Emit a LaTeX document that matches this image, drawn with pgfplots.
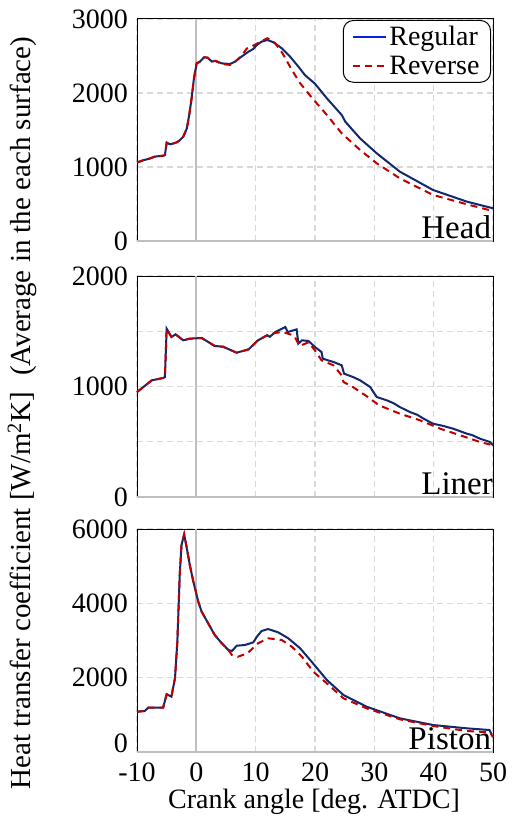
\documentclass[border=0pt]{standalone}
\usepackage{fontspec}
\setmainfont{Liberation Serif}
\usepackage{pgfplots}
\pgfplotsset{compat=1.18}
\definecolor{regblue}{RGB}{15,40,110}
\definecolor{legblue}{RGB}{10,30,235}
\definecolor{revred}{RGB}{192,0,0}
\newcommand{\tfont}{\fontsize{28bp}{30bp}\selectfont}
\pgfplotsset{
  panel/.style={
    scale only axis, width=356bp,
    xmin=-10, xmax=50,
    xtick={-10,10,20,30,40,50},
    extra x ticks={0},
    extra x tick style={grid=major, major grid style={solid, gray!50, line width=2bp}},
    grid=major,
    major grid style={gray!30, line width=1.3bp, dash pattern=on 6bp off 4bp},
    tick style={draw=none},
    axis line style={black, line width=1bp},
    ticklabel style={font=\tfont},
    /pgf/number format/assume math mode=true,
    /pgf/number format/1000 sep={},
    yticklabel style={inner sep=0pt, xshift=-9bp},
    xticklabel style={inner sep=0pt, yshift=-11bp},
    clip=false,
  },
  reg/.style={color=regblue, line width=2bp, forget plot},
  rev/.style={color=revred, line width=2bp, dash pattern=on 7bp off 5bp, forget plot},
}
\begin{document}
\begin{tikzpicture}[x=1bp,y=1bp]
\path[use as bounding box] (0,0) rectangle (512,-821);
% ---------------- Head
\begin{axis}[panel, name=head, at={(137bp,-19bp)}, anchor=north west, height=222bp,
  ymin=0, ymax=3000, ytick={0,1000,2000,3000},
  xticklabels={}, extra x tick labels={},
  legend style={at={(rel axis cs:1,1)}, anchor=north east, xshift=-2bp, yshift=-1bp,
    draw=black, line width=1bp, rounded corners=10bp, font=\tfont,
    inner xsep=9bp, inner ysep=5bp, row sep=7bp,
    nodes={inner ysep=1bp}},
  legend cell align=left,
  legend image code/.code={\draw[#1] (0bp,0bp) -- (33bp,0bp);}]
\addplot[reg] coordinates {(-10,1060)(-9,1090)(-8.1,1108)(-7,1140)(-5.6,1153)(-5.3,1160)(-5.0,1329)(-4.4,1306)(-3.3,1333)(-2.8,1360)(-2.2,1410)(-1.6,1522)(-1.2,1703)(-0.8,1928)(-0.4,2198)(0.05,2400)(0.6,2423)(1.3,2482)(1.9,2478)(2.6,2425)(3.2,2435)(4.3,2400)(5.7,2392)(6.5,2423)(7.6,2491)(8.8,2559)(9.6,2595)(10.2,2649)(11.0,2694)(12.0,2716)(13.0,2685)(14.4,2604)(15.8,2491)(17.2,2356)(18.3,2243)(20,2125)(22.0,1928)(24.5,1703)(25.1,1613)(27.6,1387)(30.4,1185)(34.3,937)(39.9,689)(45.6,532)(50,442)};
\addplot[rev] coordinates {(-10,1060)(-9,1090)(-8.1,1108)(-7,1140)(-5.6,1153)(-5.3,1160)(-5.0,1329)(-4.4,1306)(-3.3,1333)(-2.8,1360)(-2.2,1410)(-1.6,1522)(-1.2,1703)(-0.8,1928)(-0.4,2198)(0.05,2400)(0.6,2423)(1.3,2482)(1.9,2478)(2.6,2425)(3.2,2435)(4.3,2390)(5.7,2380)(6.5,2420)(7.6,2500)(8.5,2600)(9.6,2640)(10.5,2680)(11.2,2710)(12.0,2740)(13.3,2671)(14.5,2540)(16.1,2311)(17.5,2131)(19.7,1915)(22.0,1703)(24.5,1455)(27.6,1230)(30.4,1050)(34.3,847)(39.9,622)(45.6,496)(50,405)};
\addlegendimage{legblue, line width=2bp}
\addlegendentry{Regular}
\addlegendimage{revred, line width=2bp, dash pattern=on 7bp off 5bp}
\addlegendentry{Reverse}
\node[anchor=base east, inner sep=0pt, font=\fontsize{33bp}{35bp}\selectfont] at (rel axis cs:0.995,0.01) {Head};
\end{axis}
% ---------------- Liner
\begin{axis}[panel, name=liner, at={(137bp,-276bp)}, anchor=north west, height=221bp,
  ymin=0, ymax=2000, ytick={0,500,...,2000}, yticklabels={0,,1000,,2000},
  xticklabels={}, extra x tick labels={}]
\addplot[reg] coordinates {(-10,950)(-7.5,1056)(-5.6,1077)(-5.3,1085)(-5.0,1523)(-4.2,1448)(-3.5,1472)(-2.2,1418)(-1.1,1433)(0.9,1439)(3.1,1367)(4.5,1360)(6.8,1306)(8.8,1336)(10.4,1418)(11.9,1463)(12.4,1450)(13.3,1493)(15.0,1538)(15.4,1493)(16.9,1517)(17.2,1388)(17.8,1418)(18.9,1412)(20,1357)(21.1,1312)(21.3,1252)(23.1,1222)(24.5,1192)(24.9,1116)(26.4,1086)(27.6,1056)(29.3,995)(30.4,905)(32.1,875)(33.2,850)(34.3,814)(36.0,769)(37.2,745)(38.3,709)(39.9,663)(41.5,645)(43.3,618)(45.6,573)(46.5,560)(47.8,528)(49.5,498)(50,468)};
\addplot[rev] coordinates {(-10,950)(-7.5,1056)(-5.6,1077)(-5.3,1085)(-5.0,1523)(-4.2,1448)(-3.5,1472)(-2.2,1418)(-1.1,1433)(0.9,1439)(3.1,1367)(4.5,1360)(6.8,1306)(8.8,1336)(10.4,1418)(11.9,1463)(12.4,1470)(13.3,1485)(14.6,1493)(16.3,1463)(16.6,1448)(17.4,1367)(18.9,1400)(20,1327)(21.1,1237)(23.1,1192)(24.5,1101)(24.8,1041)(26.4,995)(28.5,920)(30.8,830)(34.3,754)(37.7,694)(41.1,618)(44.5,558)(47.8,498)(50,468)};
\node[anchor=base east, inner sep=0pt, font=\fontsize{33bp}{35bp}\selectfont] at (rel axis cs:1.0,0.01) {Liner};
\end{axis}
% ---------------- Piston
\begin{axis}[panel, name=piston, at={(137bp,-529bp)}, anchor=north west, height=223bp,
  ymin=0, ymax=6000, ytick={2000,4000,6000},
  extra y ticks={0}, extra y tick style={grid=none, yticklabel style={yshift=9bp}},
  extra x tick labels={0}]
\addplot[reg] coordinates {(-10,1085)(-8.7,1103)(-8.1,1193)(-5.6,1193)(-5.0,1552)(-4.2,1489)(-3.6,1982)(-3.2,2968)(-2.8,4762)(-2.5,5569)(-2.05,5857)(-1.6,5480)(-1.1,5031)(-0.5,4582)(0.33,4044)(0.9,3775)(2.0,3462)(3.1,3148)(4.3,2924)(5.4,2744)(6.0,2717)(6.8,2860)(8.2,2879)(9.6,2951)(10.2,3102)(11.0,3255)(12.1,3309)(13.8,3220)(15.5,3059)(17.5,2790)(19.8,2360)(22.0,1937)(24.8,1534)(28.7,1219)(34.3,906)(39.9,726)(45.6,637)(49.4,592)(49.8,470)};
\addplot[rev] coordinates {(-10,1085)(-8.7,1103)(-8.1,1193)(-5.6,1193)(-5.0,1552)(-4.2,1489)(-3.6,1982)(-3.2,2968)(-2.8,4762)(-2.5,5569)(-2.05,5857)(-1.6,5480)(-1.1,5031)(-0.5,4582)(0.33,4044)(0.9,3775)(2.0,3462)(3.1,3148)(4.3,2924)(5.4,2744)(6.0,2610)(7.0,2564)(8.6,2655)(10.4,2924)(12.1,3059)(14.4,3013)(16.1,2833)(17.8,2564)(19.7,2161)(22.0,1848)(24.8,1444)(28.7,1175)(34.3,880)(39.9,700)(45.6,565)(49.5,530)(50,400)};
\node[anchor=base east, inner sep=0pt, font=\fontsize{33bp}{35bp}\selectfont] at (rel axis cs:0.995,0.01) {Piston};
\end{axis}
% bottom axis lines in gray
\foreach \n in {head,liner,piston}{
  \draw[gray!50, line width=1.5bp] (\n.south west) -- (\n.south east);
}
\node[font=\tfont] at (314,-802) {Crank angle [deg. ATDC]};
\node[rotate=90, font=\fontsize{29bp}{31bp}\selectfont] at (22,-413) {Heat transfer coefficient [W/m\textsuperscript{2}K]\hspace{16bp}(Average in the each surface)};
\end{tikzpicture}
\end{document}
